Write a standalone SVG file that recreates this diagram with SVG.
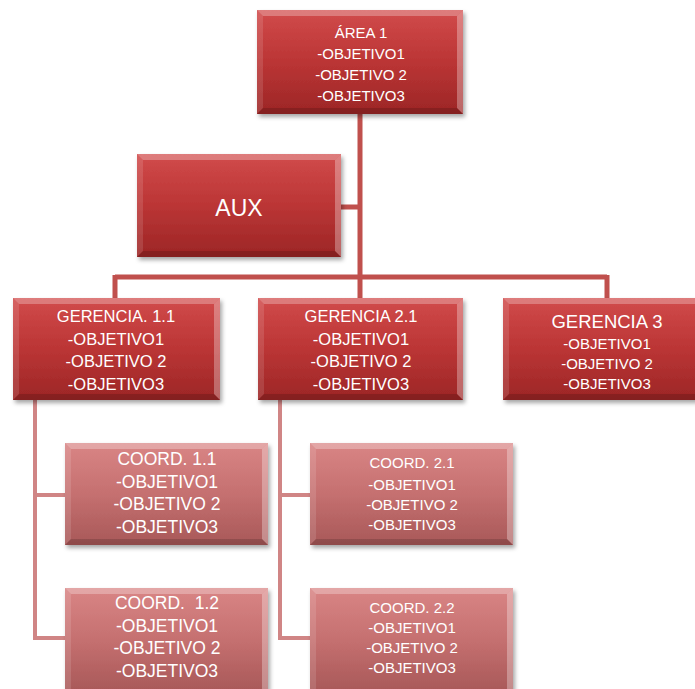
<svg xmlns="http://www.w3.org/2000/svg" width="695" height="689" viewBox="0 0 695 689">
<defs>
<linearGradient id="gDark" x1="0" y1="0" x2="0" y2="1">
<stop offset="0" stop-color="#d14b4b"/>
<stop offset="0.5" stop-color="#bb3535"/>
<stop offset="1" stop-color="#9c2626"/>
</linearGradient>
<linearGradient id="gLight" x1="0" y1="0" x2="0" y2="1">
<stop offset="0" stop-color="#d98585"/>
<stop offset="0.5" stop-color="#c57070"/>
<stop offset="1" stop-color="#a85858"/>
</linearGradient>
<filter id="sh" x="-10%" y="-10%" width="125%" height="130%">
<feDropShadow dx="2" dy="3" stdDeviation="2" flood-color="#000" flood-opacity="0.35"/>
</filter>
</defs>
<style>
.main{stroke:#c0504d;stroke-width:5;fill:none}
.sub{stroke:#d08585;stroke-width:4;fill:none}
.dark{fill:url(#gDark);filter:url(#sh)}
.light{fill:url(#gLight);filter:url(#sh)}
.bt{fill:#fff;fill-opacity:0.28}
.bl{fill:#fff;fill-opacity:0.12}
.br{fill:#fff;fill-opacity:0.3}
.bb{fill:#000;fill-opacity:0.15}
text{font-family:"Liberation Sans",Arial,sans-serif;fill:#fff;text-anchor:middle}
</style>
<g id="connectors">
<path class="main" d="M360 114V279M341 207H360M115 277H607M115 275V298M360 275V298M607 275V298"/>
<path class="sub" d="M35 400V638H65M35 495H65M280 400V638H310M280 495H310"/>
</g>
<g id="area1">
<rect class="dark" x="257" y="10" width="206" height="104"/>
<polygon class="bt" points="257,10 463,10 457,16 263,16"/>
<polygon class="bl" points="257,10 263,16 263,108 257,114"/>
<polygon class="br" points="463,10 463,114 457,108 457,16"/>
<polygon class="bb" points="257,114 463,114 457,108 263,108"/>
<text font-size="15"><tspan x="361" y="38">ÁREA 1</tspan><tspan x="361" y="59">-OBJETIVO1</tspan><tspan x="361" y="80">-OBJETIVO 2</tspan><tspan x="361" y="101">-OBJETIVO3</tspan></text>
</g>
<g id="aux">
<rect class="dark" x="137" y="154" width="204" height="103"/>
<polygon class="bt" points="137,154 341,154 335,160 143,160"/>
<polygon class="bl" points="137,154 143,160 143,251 137,257"/>
<polygon class="br" points="341,154 341,257 335,251 335,160"/>
<polygon class="bb" points="137,257 341,257 335,251 143,251"/>
<text font-size="23" x="239" y="216">AUX</text>
</g>
<g id="gerencia11">
<rect class="dark" x="13" y="298" width="207" height="102"/>
<polygon class="bt" points="13,298 220,298 214,304 19,304"/>
<polygon class="bl" points="13,298 19,304 19,394 13,400"/>
<polygon class="br" points="220,298 220,400 214,394 214,304"/>
<polygon class="bb" points="13,400 220,400 214,394 19,394"/>
<text font-size="16.5"><tspan x="116" y="322">GERENCIA. 1.1</tspan><tspan x="116" y="345">-OBJETIVO1</tspan><tspan x="116" y="367">-OBJETIVO 2</tspan><tspan x="116" y="390">-OBJETIVO3</tspan></text>
</g>
<g id="gerencia21">
<rect class="dark" x="258" y="298" width="205" height="102"/>
<polygon class="bt" points="258,298 463,298 457,304 264,304"/>
<polygon class="bl" points="258,298 264,304 264,394 258,400"/>
<polygon class="br" points="463,298 463,400 457,394 457,304"/>
<polygon class="bb" points="258,400 463,400 457,394 264,394"/>
<text font-size="16.5"><tspan x="361" y="322">GERENCIA 2.1</tspan><tspan x="361" y="345">-OBJETIVO1</tspan><tspan x="361" y="367">-OBJETIVO 2</tspan><tspan x="361" y="390">-OBJETIVO3</tspan></text>
</g>
<g id="gerencia3">
<rect class="dark" x="503" y="298" width="207" height="102"/>
<polygon class="bt" points="503,298 710,298 704,304 509,304"/>
<polygon class="bl" points="503,298 509,304 509,394 503,400"/>
<polygon class="bb" points="503,400 710,400 704,394 509,394"/>
<text><tspan font-size="18.5" x="607" y="328">GERENCIA 3</tspan><tspan font-size="15" x="607" y="349">-OBJETIVO1</tspan><tspan font-size="15" x="607" y="369">-OBJETIVO 2</tspan><tspan font-size="15" x="607" y="389">-OBJETIVO3</tspan></text>
</g>
<g id="coord11">
<rect class="light" x="65" y="443" width="203" height="102"/>
<polygon class="bt" points="65,443 268,443 262,449 71,449"/>
<polygon class="bl" points="65,443 71,449 71,539 65,545"/>
<polygon class="br" points="268,443 268,545 262,539 262,449"/>
<polygon class="bb" points="65,545 268,545 262,539 71,539"/>
<text font-size="17.5"><tspan x="167" y="465">COORD. 1.1</tspan><tspan x="167" y="488">-OBJETIVO1</tspan><tspan x="167" y="510">-OBJETIVO 2</tspan><tspan x="167" y="533">-OBJETIVO3</tspan></text>
</g>
<g id="coord12">
<rect class="light" x="65" y="588" width="203" height="104"/>
<polygon class="bt" points="65,588 268,588 262,594 71,594"/>
<polygon class="bl" points="65,588 71,594 71,692 65,692"/>
<polygon class="br" points="268,588 268,692 262,692 262,594"/>
<text font-size="17.5" xml:space="preserve"><tspan x="167" y="609">COORD.  1.2</tspan><tspan x="167" y="632">-OBJETIVO1</tspan><tspan x="167" y="654">-OBJETIVO 2</tspan><tspan x="167" y="677">-OBJETIVO3</tspan></text>
</g>
<g id="coord21">
<rect class="light" x="310" y="443" width="203" height="102"/>
<polygon class="bt" points="310,443 513,443 507,449 316,449"/>
<polygon class="bl" points="310,443 316,449 316,539 310,545"/>
<polygon class="br" points="513,443 513,545 507,539 507,449"/>
<polygon class="bb" points="310,545 513,545 507,539 316,539"/>
<text font-size="15"><tspan x="412" y="468">COORD. 2.1</tspan><tspan x="412" y="490">-OBJETIVO1</tspan><tspan x="412" y="510">-OBJETIVO 2</tspan><tspan x="412" y="530">-OBJETIVO3</tspan></text>
</g>
<g id="coord22">
<rect class="light" x="310" y="588" width="203" height="104"/>
<polygon class="bt" points="310,588 513,588 507,594 316,594"/>
<polygon class="bl" points="310,588 316,594 316,692 310,692"/>
<polygon class="br" points="513,588 513,692 507,692 507,594"/>
<text font-size="15"><tspan x="412" y="613">COORD. 2.2</tspan><tspan x="412" y="633">-OBJETIVO1</tspan><tspan x="412" y="653">-OBJETIVO 2</tspan><tspan x="412" y="673">-OBJETIVO3</tspan></text>
</g>
</svg>
